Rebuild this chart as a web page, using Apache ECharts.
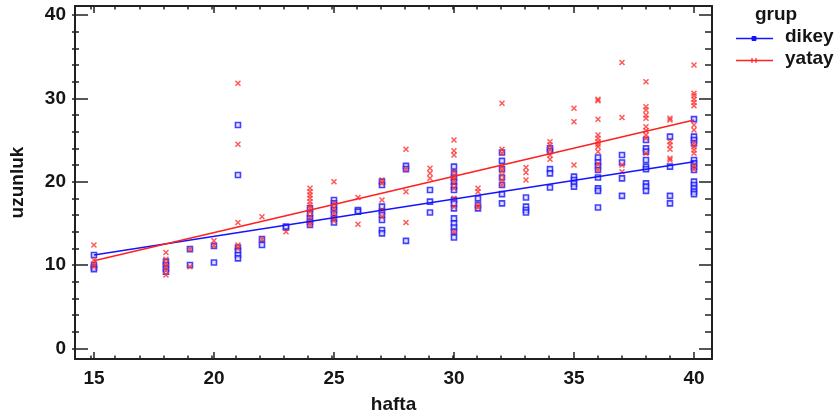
<!DOCTYPE html>
<html>
<head>
<meta charset="utf-8">
<script src="https://cdn.jsdelivr.net/npm/echarts@6/dist/echarts.min.js"></script>
<style>html,body{margin:0;padding:0;background:#fff}#c{width:838px;height:419px}</style>
</head>
<body>
<div id="c"></div>
<script>
// ---- data ----
const weeks = [15,18,19,20,21,22,23,24,25,26,27,28,29,30,31,32,33,34,35,36,37,38,39,40];
const dikeyByWeek = [
  [11.2,10.0,9.7,9.5],
  [10.4,10.0,9.6,9.2],
  [11.9,10.0],
  [12.3,10.3],
  [26.8,20.8,12.1,11.7,11.2,10.8],
  [13.1,12.4],
  [14.5,14.6],
  [16.8,16.2,15.6,15.2,14.8],
  [17.8,17.4,17.0,16.6,16.2,15.6,15.1],
  [16.6,16.4],
  [20.0,19.6,17.0,16.4,16.0,15.4,14.2,13.8],
  [21.9,21.5,12.9],
  [19.0,17.6,16.3],
  [21.8,21.0,20.5,20.0,19.4,19.0,17.8,17.4,16.8,15.6,15.0,14.5,14.0,13.3],
  [18.0,17.2,16.8],
  [23.5,22.5,21.5,20.5,19.6,18.5,17.4],
  [18.1,17.0,16.6,16.3],
  [24.0,23.7,21.5,21.0,19.3],
  [20.6,20.2,19.8,19.4],
  [22.9,22.3,21.9,21.4,20.5,19.2,18.9,16.9],
  [23.2,22.3,20.4,18.3],
  [25.0,24.0,23.6,22.6,21.8,21.5,19.8,19.4,18.9],
  [25.4,21.8,18.3,17.4],
  [27.5,25.4,25.0,24.6,22.6,22.2,21.8,21.4,20.0,19.6,19.2,18.8,18.5]
];
const yatayByWeek = [
  [12.4,10.6,10.1,9.8],
  [11.5,10.7,10.2,9.8,9.3,8.8],
  [11.9,9.8],
  [12.9,12.3],
  [31.8,24.5,15.1,12.4,12.0],
  [15.8,13.1],
  [14.0],
  [19.2,18.8,18.4,18.0,17.6,17.2,16.8,16.4,15.8,15.2,14.8],
  [20.0,17.4,16.8,16.2,15.7,15.3],
  [18.1,14.9],
  [20.2,19.8,17.8,16.6,15.8],
  [23.9,21.5,18.8,15.1],
  [21.6,21.0,20.4],
  [25.0,23.7,23.2,21.2,20.6,20.2,19.8,19.2,18.0,17.0,14.0],
  [19.2,18.8,17.2,16.9],
  [29.4,23.9,23.4,21.8,21.4,20.8,20.2,19.6],
  [21.7,21.1,20.2],
  [24.8,24.4,23.8,23.2,22.7],
  [28.8,27.2,22.0],
  [29.9,29.7,27.5,25.6,25.2,24.8,24.5,24.2,23.6,22.1,21.4],
  [34.3,27.7,22.0,21.2],
  [32.0,29.0,28.6,28.0,27.6,26.6,26.1,25.6,25.2,23.4],
  [27.6,27.4,24.8,24.4,23.9,22.8,22.6],
  [34.0,30.6,30.3,29.9,29.5,29.1,26.8,26.2,24.6,24.2,23.8,23.4,21.9,21.5]
];
// fitted lines (endpoints)
const fitX = [15, 40];
const dikeyFitY = [11.2, 22.4];
const yatayFitY = [10.5, 27.4];

const xMajorTicks = [15,20,25,30,35,40];
const xMinorTicks = [15,16,17,18,19,20,21,22,23,24,25,26,27,28,29,30,31,32,33,34,35,36,37,38,39,40];
const yMajorTicks = [0,10,20,30,40];
const yMinorTicks = [0,2,4,6,8,10,12,14,16,18,20,22,24,26,28,30,32,34,36,38,40];
const groupNames = ['dikey','yatay'];
const legendTitle = 'grup';
const xName = 'hafta';
const yName = 'uzunluk';

// ---- build ----
function flatten(byWeek){
  const out = [];
  byWeek.forEach((vals, i) => vals.forEach(v => out.push([weeks[i], v])));
  return out;
}
const FONT = "'Liberation Sans', Arial, sans-serif";
const TXT = '#151515';
const AX = '#202020';
const BLUE = '#1414ff';
const RED = '#ff2020';
const RED_M = '#ff3030';
const X_MIN = 14.21, X_MAX = 40.75, Y_MIN = -1.28, Y_MAX = 41.08;

function xAx(grid, pos, ticks, len, labels, line){
  const a = {
    gridIndex: grid, type: 'value', position: pos, min: X_MIN, max: X_MAX,
    axisLine: {show: line, onZero: false, lineStyle: {color: AX, width: 2}},
    axisTick: {show: true, inside: true, length: len, customValues: ticks, lineStyle: {color: AX, width: 1.5}},
    axisLabel: {show: labels},
    splitLine: {show: false}
  };
  if (labels) {
    a.axisLabel = {show: true, customValues: xMajorTicks, fontSize: 19, fontWeight: 'bold', fontFamily: FONT, color: TXT, margin: 10};
    a.name = xName; a.nameLocation = 'middle'; a.nameGap = 36;
    a.nameTextStyle = {fontSize: 19, fontWeight: 'bold', fontFamily: FONT, color: TXT};
  }
  return a;
}
function yAx(grid, pos, ticks, len, labels, line){
  const a = {
    gridIndex: grid, type: 'value', position: pos, min: Y_MIN, max: Y_MAX,
    axisLine: {show: line, onZero: false, lineStyle: {color: AX, width: 2}},
    axisTick: {show: true, inside: true, length: len, customValues: ticks, lineStyle: {color: AX, width: 1.5}},
    axisLabel: {show: labels},
    splitLine: {show: false}
  };
  if (labels) {
    a.axisLabel = {show: true, customValues: yMajorTicks, fontSize: 19, fontWeight: 'bold', fontFamily: FONT, color: TXT, margin: 9};
    a.name = yName; a.nameLocation = 'middle'; a.nameGap = 48; a.nameRotate = 90;
    a.nameTextStyle = {fontSize: 19, fontWeight: 'bold', fontFamily: FONT, color: TXT};
  }
  return a;
}

const gridRect = {left: 72, top: 6, width: 640, height: 353};
const chart = echarts.init(document.getElementById('c'), null, {renderer: 'canvas'});
const option = {
  animation: false,
  backgroundColor: '#fff',
  grid: [Object.assign({}, gridRect), Object.assign({}, gridRect)],
  xAxis: [
    xAx(0, 'bottom', xMajorTicks, 7, true, true),
    xAx(0, 'top', xMajorTicks, 7, false, true),
    xAx(1, 'bottom', xMinorTicks, 3.5, false, false),
    xAx(1, 'top', xMinorTicks, 3.5, false, false)
  ],
  yAxis: [
    yAx(0, 'left', yMajorTicks, 13, true, true),
    yAx(0, 'right', yMajorTicks, 13, false, true),
    yAx(1, 'left', yMinorTicks, 7, false, false),
    yAx(1, 'right', yMinorTicks, 7, false, false)
  ],
  series: [
    {
      name: groupNames[0], type: 'scatter', xAxisIndex: 0, yAxisIndex: 0,
      data: flatten(dikeyByWeek), symbol: 'rect', symbolSize: 5,
      itemStyle: {color: '#dcdcff', borderColor: BLUE, borderWidth: 1.6}, z: 3
    },
    {
      name: groupNames[1], type: 'scatter', xAxisIndex: 0, yAxisIndex: 0,
      data: flatten(yatayByWeek), symbol: 'path://M0,0L10,10M10,0L0,10', symbolSize: 5,
      itemStyle: {color: 'rgba(0,0,0,0)', borderColor: RED_M, borderWidth: 1.5}, z: 3
    },
    {
      type: 'line', xAxisIndex: 0, yAxisIndex: 0, showSymbol: false, symbol: 'none',
      data: fitX.map((x, i) => [x, dikeyFitY[i]]), lineStyle: {color: BLUE, width: 1.6}, z: 4
    },
    {
      type: 'line', xAxisIndex: 0, yAxisIndex: 0, showSymbol: false, symbol: 'none',
      data: fitX.map((x, i) => [x, yatayFitY[i]]), lineStyle: {color: RED, width: 1.6}, z: 4
    }
  ],
  graphic: [
    {type: 'text', left: 755, top: 5, style: {text: legendTitle, font: 'bold 19px ' + FONT, fill: TXT}},
    {type: 'line', shape: {x1: 736, y1: 38.5, x2: 773, y2: 38.5}, style: {stroke: BLUE, lineWidth: 1.6}},
    {type: 'rect', shape: {x: 752, y: 36.5, width: 4, height: 4}, style: {fill: BLUE, stroke: BLUE, lineWidth: 1}},
    {type: 'text', left: 785, top: 27, style: {text: groupNames[0], font: 'bold 19px ' + FONT, fill: TXT}},
    {type: 'line', shape: {x1: 736, y1: 60.5, x2: 773, y2: 60.5}, style: {stroke: RED, lineWidth: 1.6}},
    {type: 'line', shape: {x1: 752, y1: 58, x2: 752, y2: 63}, style: {stroke: RED, lineWidth: 1.2}},
    {type: 'line', shape: {x1: 756, y1: 58, x2: 756, y2: 63}, style: {stroke: RED, lineWidth: 1.2}},
    {type: 'text', left: 785, top: 49, style: {text: groupNames[1], font: 'bold 19px ' + FONT, fill: TXT}}
  ]
};
chart.setOption(option);
</script>
</body>
</html>
